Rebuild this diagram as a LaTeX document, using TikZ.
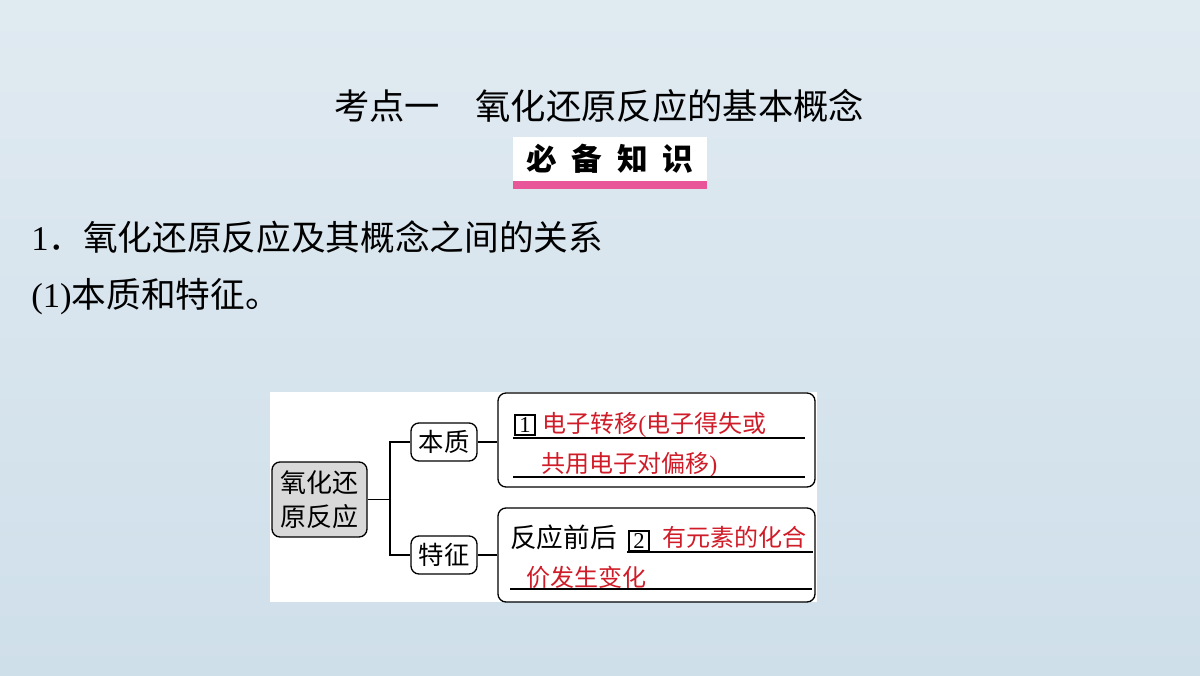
\documentclass[tikz,border=0pt]{standalone}
\usepackage{fontspec}
\setmainfont{Liberation Serif}
\newfontfamily\cjk{Noto Sans CJK SC}
\usetikzlibrary{positioning}

\definecolor{ansred}{RGB}{208,28,40}
\definecolor{barpink}{RGB}{232,85,152}
\definecolor{bgtop}{RGB}{224,234,241}
\definecolor{bgmid}{RGB}{243,247,250}
\definecolor{bgbot}{RGB}{207,223,234}

\tikzset{
  box/.style={draw, line width=1pt, rounded corners=6pt, inner sep=0pt},
  numbox/.style={draw, line width=1pt, inner sep=0pt, minimum width=15pt, minimum height=15pt,
    font=\fontsize{17pt}{17pt}\selectfont},
  red text/.style={anchor=west, inner sep=0pt, text=ansred, font=\cjk\fontsize{18pt}{20pt}\selectfont},
  blank/.style={line width=0.8pt}
}

\begin{document}
\begin{tikzpicture}[x=0.75pt, y=-0.75pt]
\useasboundingbox (0,0) rectangle (1200,675);
\shade[top color=bgtop, middle color=bgmid, bottom color=bgbot] (0,0) rectangle (1200,675);

% heading
\node[font=\cjk\fontsize{26.5pt}{28pt}\selectfont] (title) at (599,106) {考点一　氧化还原反应的基本概念};
\fill[white] (513,137) rectangle (707,181);
\fill[barpink] (513,181) rectangle (707,189);
\node[font=\cjk\bfseries\fontsize{23pt}{24pt}\selectfont] (tag) at (610,159)
  {必\hspace{11pt}备\hspace{11pt}知\hspace{11pt}识};

\node[anchor=west, inner sep=0pt, font=\fontsize{26pt}{28pt}\selectfont] (line1) at (31,237)
  {1{\cjk ．氧化还原反应及其概念之间的关系}};
\node[anchor=west, inner sep=0pt, font=\fontsize{26pt}{28pt}\selectfont] (line2) at (31,297)
  {(1){\cjk 本质和特征。}};

% diagram
\fill[white] (270,392) rectangle (817,602);

\node[box, fill=black!15, minimum width=71.25pt, minimum height=56.25pt, align=center,
  font=\cjk\fontsize{19.5pt}{25.5pt}\selectfont] (root) at (319.5,499.5) {氧化还\\原反应};
\node[box, fill=white, minimum width=49.5pt, minimum height=28.5pt,
  font=\cjk\fontsize{19pt}{20pt}\selectfont] (ben) at (444,442) {本质};
\node[box, fill=white, minimum width=49.5pt, minimum height=28.5pt,
  font=\cjk\fontsize{19pt}{20pt}\selectfont] (te) at (444,555) {特征};
\node[box, fill=white, minimum width=237.75pt, minimum height=70.5pt] (ess) at (656.5,440) {};
\node[box, fill=white, minimum width=237.75pt, minimum height=70.5pt] (feat) at (656.5,555) {};

\coordinate (fork) at (390,499.5);
\path[draw,line width=1pt] (root) -- (fork);
\path[draw,line width=1pt] (fork) |- (ben);
\path[draw,line width=1pt] (fork) |- (te);
\path[draw,line width=1pt] (ben) -- (ben -| ess.west);
\path[draw,line width=1pt] (te) -- (te -| feat.west);

% answer 1
\node[numbox] (n1) at (525,425) {1};
\node[red text] (a1) at (542,425) {电子转移{\rmfamily(}电子得失或};
\node[red text] (a2) at (541,465) {共用电子对偏移{\rmfamily)}};
\draw[blank] (513,438) -- (805,438);
\draw[blank] (513,477) -- (805,477);

% answer 2
\node[anchor=west, inner sep=0pt, font=\cjk\fontsize{20pt}{22pt}\selectfont] (pre) at (510,537) {反应前后};
\node[numbox] (n2) at (639,541) {2};
\node[red text] (b1) at (662,537) {有元素的化合};
\node[red text] (b2) at (526,577) {价发生变化};
\draw[blank] (627,552) -- (813,552);
\draw[blank] (510,589) -- (812,589);
\end{tikzpicture}
\end{document}
